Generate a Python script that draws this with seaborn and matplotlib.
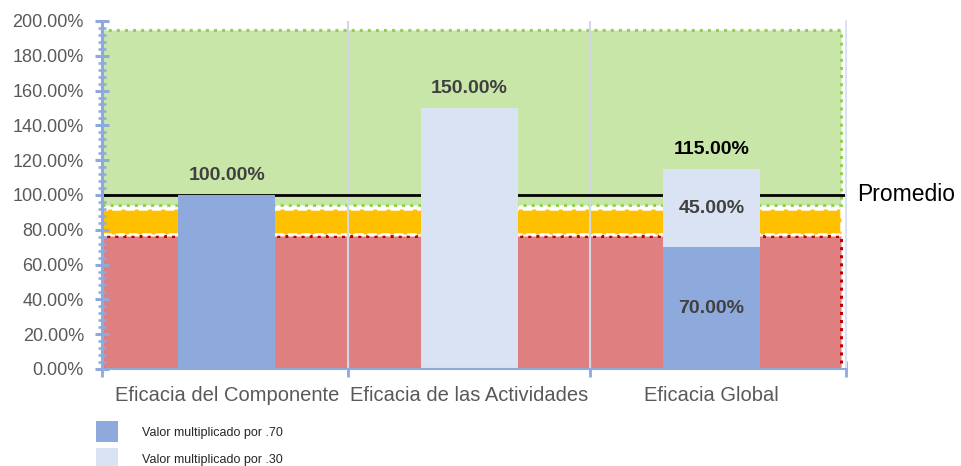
import pandas as pd
import matplotlib.pyplot as plt
import seaborn as sns
from matplotlib.patches import Patch
from matplotlib.ticker import PercentFormatter, MultipleLocator, FixedLocator

# Data
categories = ['Eficacia del Componente', 'Eficacia de las Actividades', 'Eficacia Global']
valor_70 = [100, 0, 70]   # part multiplied by .70
valor_30 = [0, 150, 45]   # part multiplied by .30
promedio = 100

# Background zones (lower, upper) in %
zona_roja = [0, 76.5]
zona_amarilla = [77.5, 92]
zona_verde = [94, 195]

legend_labels = ['Valor multiplicado por .70', 'Valor multiplicado por .30']

dark_blue = '#8EA9DB'
light_blue = '#DAE3F3'

sns.set_style('white')
plt.rcParams['font.family'] = ['Liberation Sans', 'DejaVu Sans']

df = pd.DataFrame({'categoria': categories, 'v70': valor_70, 'v30': valor_30})
df['total'] = df['v70'] + df['v30']

fig = plt.figure(figsize=(9.62, 4.66), dpi=100)
ax = fig.add_axes([0.106, 0.2082, 0.7734, 0.7468])

# zones
ax.axhspan(zona_roja[0], zona_roja[1], xmin=0, xmax=0.993, facecolor='#DF7F7F',
           edgecolor='#C00000', linestyle=':', linewidth=2.2, zorder=0)
ax.axhspan(zona_amarilla[0], zona_amarilla[1], xmin=0, xmax=0.993, facecolor='#FFC000',
           edgecolor='white', linestyle='--', linewidth=1.8, zorder=0)
ax.axhspan(zona_verde[0], zona_verde[1], xmin=0, xmax=0.993, facecolor='#C9E6A9',
           edgecolor='#92D050', linestyle=':', linewidth=2.2, zorder=0)

# category separators
for i in range(len(categories) - 1):
    ax.axvline(i + 0.5, color='#D0D8E8', linewidth=1.5, zorder=1)

ax.axhline(promedio, color='black', linewidth=2, zorder=2)

# stacked bars: totals in light blue, .70 part in dark blue on top
sns.barplot(data=df, x='categoria', y='total', color=light_blue, saturation=1,
            width=0.4, ax=ax, zorder=3, linewidth=0, edgecolor='none')
sns.barplot(data=df, x='categoria', y='v70', color=dark_blue, saturation=1,
            width=0.4, ax=ax, zorder=3, linewidth=0, edgecolor='none')

# value labels
for i, row in df.iterrows():
    stacked = row['v70'] > 0 and row['v30'] > 0
    ax.annotate(f"{row['total']:.2f}%", xy=(i, row['total']), xytext=(0, 14),
                textcoords='offset points', ha='center', va='center',
                fontsize=14, fontweight='bold',
                color='black' if stacked else '#404040', zorder=4)
    if stacked:
        ax.text(i, row['v70'] / 2, f"{row['v70']:.2f}%", ha='center', va='center',
                fontsize=14, fontweight='bold', color='#404040', zorder=4)
        ax.text(i, row['v70'] + row['v30'] / 2, f"{row['v30']:.2f}%", ha='center',
                va='center', fontsize=14, fontweight='bold', color='#404040', zorder=4)

ax.annotate('Promedio', xy=(1, promedio), xycoords=('axes fraction', 'data'),
            xytext=(8, 0), textcoords='offset points', ha='left', va='center',
            fontsize=16.5, color='black')

ax.set_xlim(-0.515, 2.555)
ax.set_ylim(0, 200)
ax.set_xlabel('')
ax.set_ylabel('')

ax.yaxis.set_major_locator(MultipleLocator(20))
ax.yaxis.set_minor_locator(MultipleLocator(4))
ax.yaxis.set_major_formatter(PercentFormatter(xmax=100, decimals=2))
ax.tick_params(axis='y', which='major', direction='inout', length=10, width=2.2,
               color=dark_blue, labelsize=13, labelcolor='#595959', pad=8, left=True)
ax.tick_params(axis='y', which='minor', direction='inout', length=6, width=1.8,
               color=dark_blue, left=True)

ax.xaxis.set_minor_locator(FixedLocator([-0.515, 0.5, 1.5, 2.555]))
ax.tick_params(axis='x', which='major', length=0, labelsize=14.5,
               labelcolor='#595959', pad=12)
ax.tick_params(axis='x', which='minor', direction='inout', length=11, width=2,
               color=dark_blue, bottom=True)

ax.spines['top'].set_visible(False)
ax.spines['right'].set_color('#DAE3F3')
ax.spines['right'].set_linewidth(1.5)
ax.spines['left'].set_color(dark_blue)
ax.spines['left'].set_linewidth(2.2)
ax.spines['bottom'].set_color(dark_blue)
ax.spines['bottom'].set_linewidth(1.5)
for s in ax.spines.values():
    s.set_zorder(5)

handles = [Patch(facecolor=dark_blue, edgecolor='none'),
           Patch(facecolor=light_blue, edgecolor='none')]
fig.legend(handles, legend_labels, loc='upper left', bbox_to_anchor=(0.0998, 0.096),
           frameon=False, fontsize=9, handlelength=1.75, handleheight=2.2,
           handletextpad=1.9, labelspacing=0.5, borderpad=0, borderaxespad=0)

plt.savefig('out.png', dpi=100)
